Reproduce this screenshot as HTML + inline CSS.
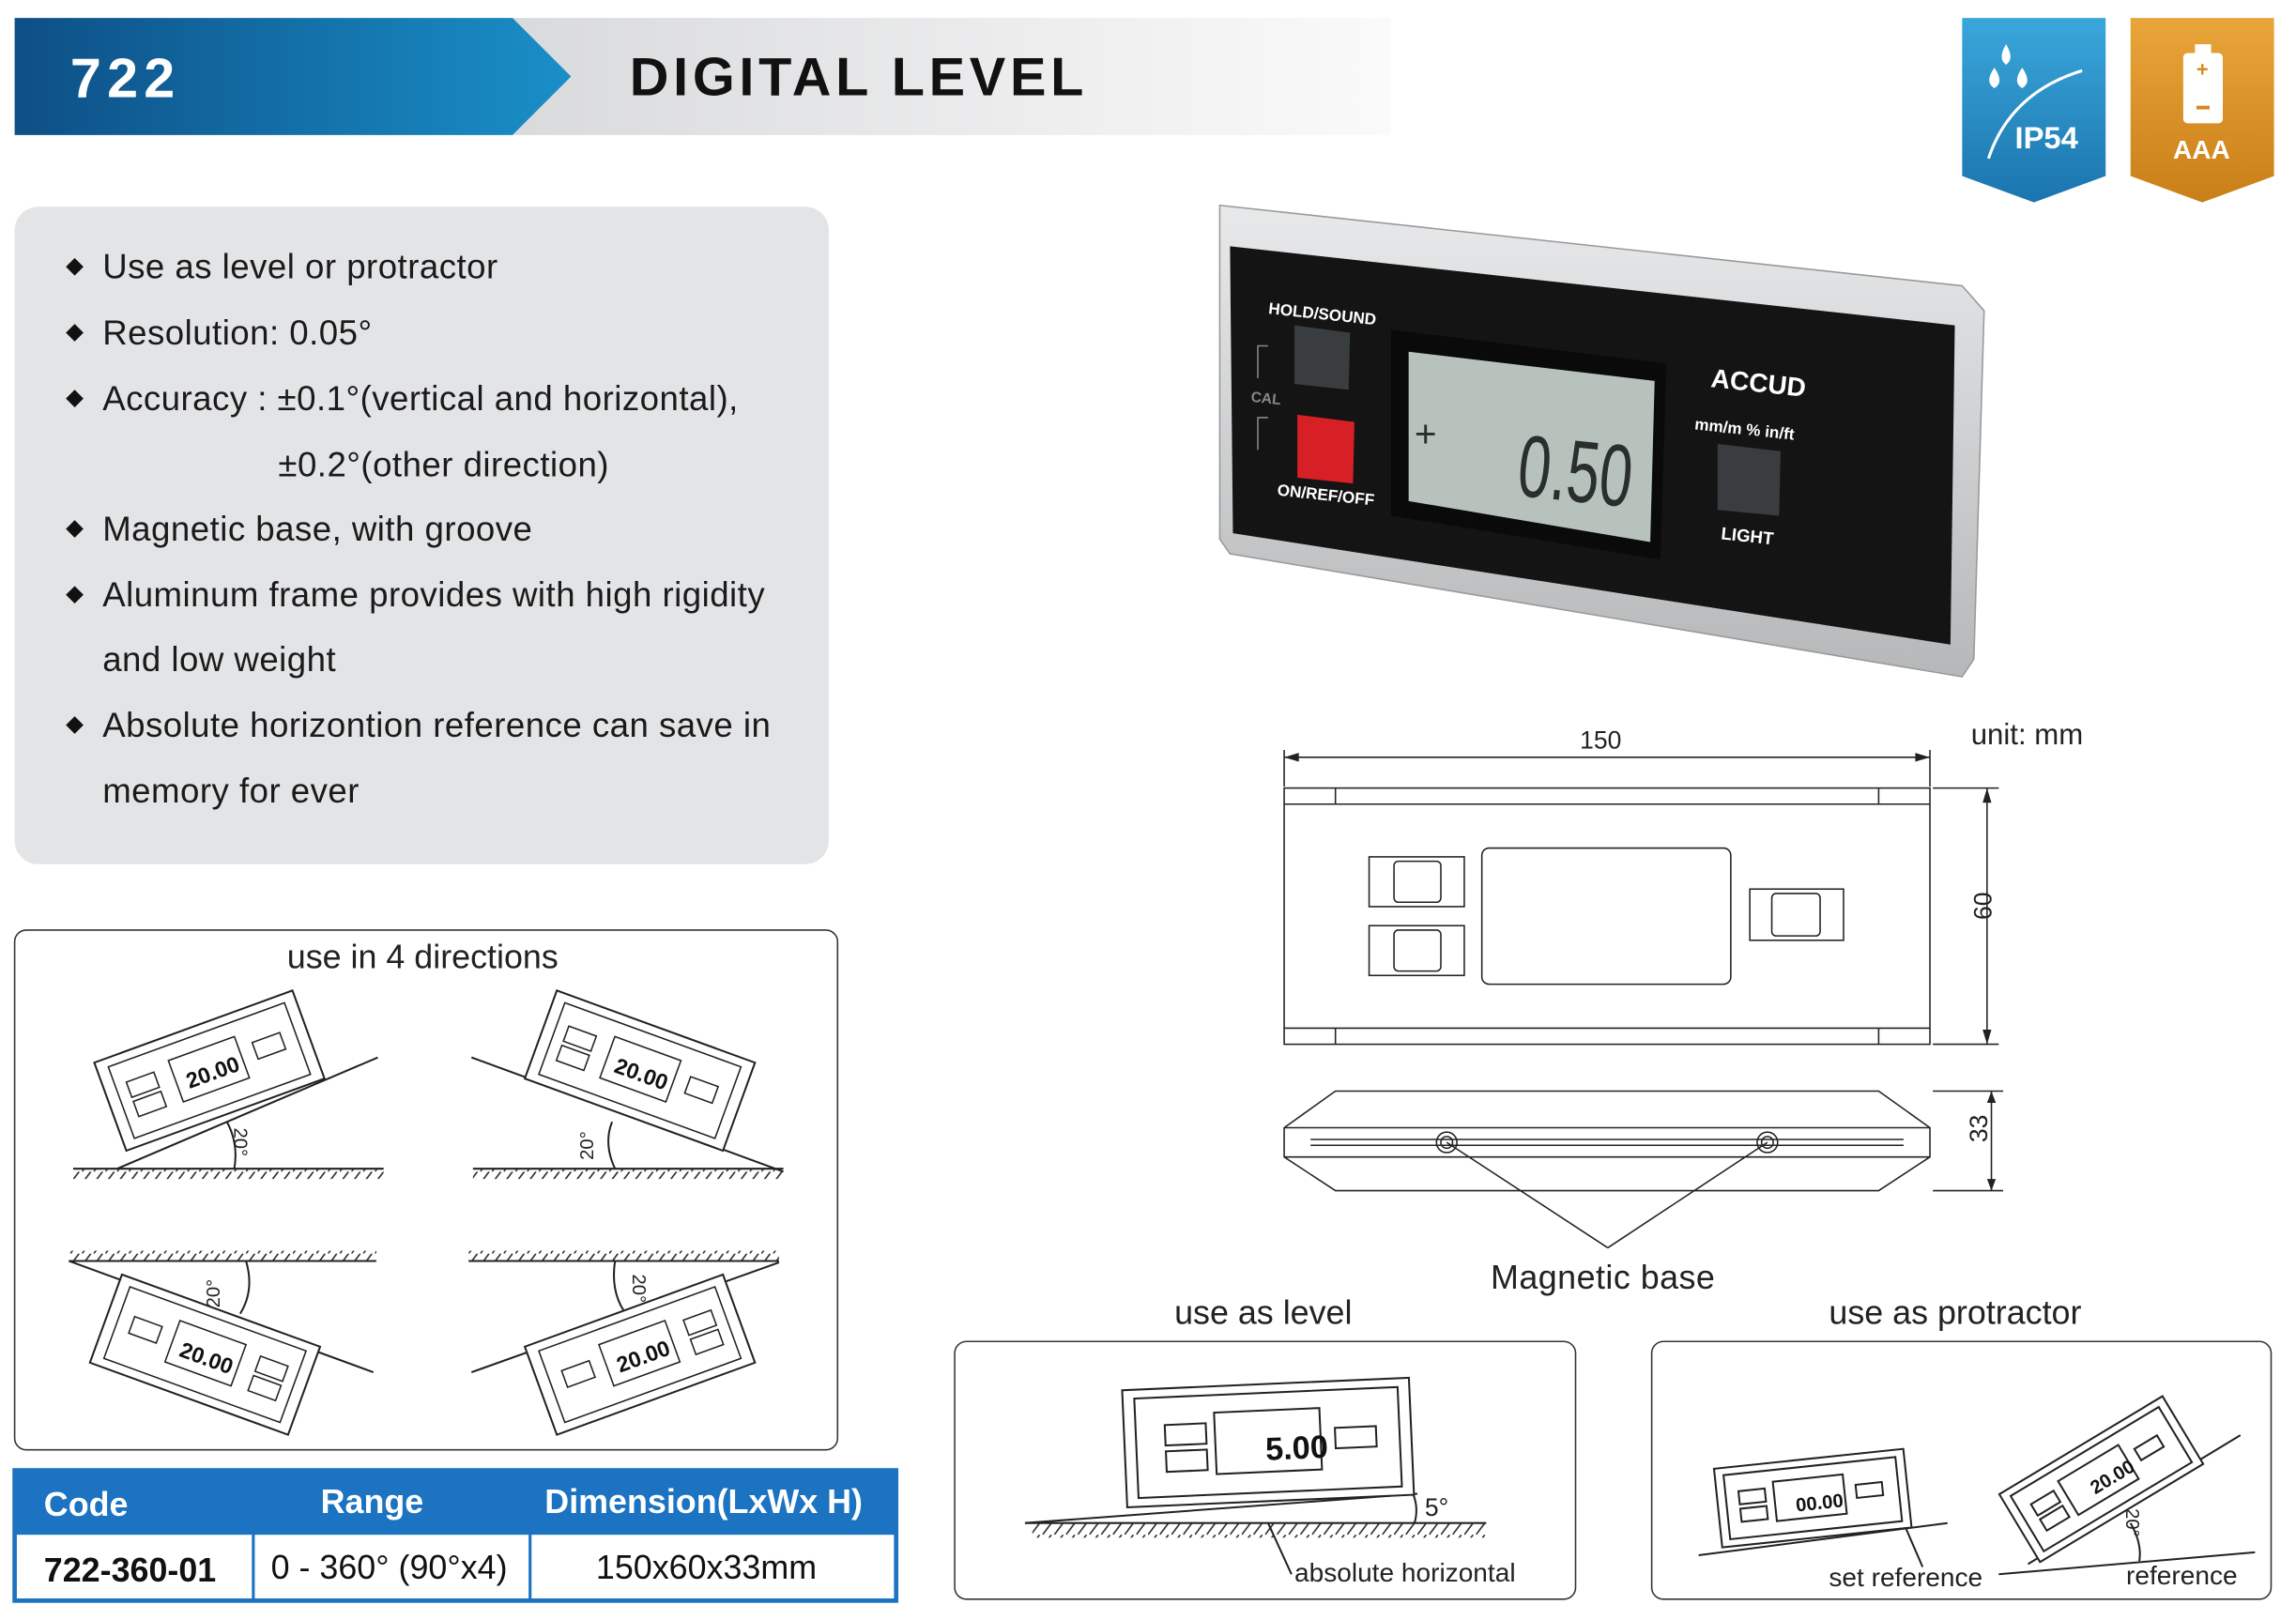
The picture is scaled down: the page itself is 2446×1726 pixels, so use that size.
<!DOCTYPE html>
<html><head><meta charset="utf-8"><style>
html,body{margin:0;padding:0;background:#fff;}
svg{display:block;}
text{font-family:"Liberation Sans",sans-serif;}
</style></head><body>
<svg width="2446" height="1726" viewBox="0 0 1568 1106" xmlns="http://www.w3.org/2000/svg">
<defs>
<linearGradient id="hb" x1="0" x2="1"><stop offset="0" stop-color="#0d4f86"/><stop offset="1" stop-color="#1a8fc8"/></linearGradient>
<linearGradient id="hg" x1="0" x2="1"><stop offset="0" stop-color="#d9dadc"/><stop offset="1" stop-color="#fafafa"/></linearGradient>
<linearGradient id="bl" x1="0" y1="0" x2="0" y2="1"><stop offset="0" stop-color="#3aa7db"/><stop offset="1" stop-color="#1b74ae"/></linearGradient>
<linearGradient id="or" x1="0" y1="0" x2="0" y2="1"><stop offset="0" stop-color="#e9a53a"/><stop offset="1" stop-color="#c97f17"/></linearGradient>
<linearGradient id="sv" x1="0" y1="0" x2="0" y2="1"><stop offset="0" stop-color="#e8e9ea"/><stop offset="1" stop-color="#b5b7b9"/></linearGradient>
<pattern id="hatch" width="8" height="8" patternUnits="userSpaceOnUse"><line x1="0" y1="8" x2="6" y2="0" stroke="#222" stroke-width="1"/></pattern>
</defs>

<!-- header -->
<rect x="350" y="12" width="600" height="80" fill="url(#hg)"/>
<polygon points="10,12 350,12 390,52 350,92 10,92" fill="url(#hb)"/>
<text x="48" y="66" font-size="38" font-weight="bold" fill="#fff" letter-spacing="4">722</text>
<text x="430" y="65" font-size="37" font-weight="bold" fill="#111" letter-spacing="3">DIGITAL LEVEL</text>

<!-- icons -->
<polygon points="1340,12 1438,12 1438,120 1389,138 1340,120" fill="url(#bl)"/>
<path d="M1370,30 q-6,10 0,14 q6,-4 0,-14z M1362,46 q-7,10 0,14 q7,-4 0,-14z M1381,46 q-7,10 0,14 q7,-4 0,-14z" fill="#fff"/>
<path d="M1358,108 q15,-45 64,-60" stroke="#fff" stroke-width="2" fill="none"/>
<text x="1376" y="101" font-size="21" font-weight="bold" fill="#fff">IP54</text>
<polygon points="1455,12 1553,12 1553,120 1504,138 1455,120" fill="url(#or)"/>
<rect x="1491" y="36" width="27" height="48" rx="3" fill="#fff"/>
<rect x="1499" y="30" width="11" height="7" fill="#fff"/>
<text x="1500" y="52" font-size="14" fill="#d48a1c" font-weight="bold">+</text>
<rect x="1500" y="72" width="9" height="2.5" fill="#d48a1c"/>
<text x="1484" y="108" font-size="18" font-weight="bold" fill="#fff">AAA</text>

<!-- features box -->
<rect x="10" y="141" width="556" height="449" rx="16" fill="#e3e4e6"/>
<g font-size="23.5" fill="#1a1a1a" letter-spacing="0.3">
<g fill="#111"><path d="M51,176 l6,6 -6,6 -6,-6z"/><path d="M51,221 l6,6 -6,6 -6,-6z"/><path d="M51,266 l6,6 -6,6 -6,-6z"/><path d="M51,355 l6,6 -6,6 -6,-6z"/><path d="M51,400 l6,6 -6,6 -6,-6z"/><path d="M51,489 l6,6 -6,6 -6,-6z"/></g>
<text x="70" y="190">Use as level or protractor</text>
<text x="70" y="235">Resolution: 0.05°</text>
<text x="70" y="280">Accuracy : ±0.1°(vertical and horizontal),</text>
<text x="190" y="325">±0.2°(other direction)</text>
<text x="70" y="369">Magnetic base, with groove</text>
<text x="70" y="414">Aluminum frame provides with high rigidity</text>
<text x="70" y="458">and low weight</text>
<text x="70" y="503">Absolute horizontion reference can save in</text>
<text x="70" y="548">memory for ever</text>
</g>

<!-- product photo -->
<polygon points="833,140 1340,195 1355,212 1348,450 1340,462 840,378 833,368" fill="url(#sv)" stroke="#999"/>
<polygon points="840,168 1335,222 1332,440 842,364" fill="#141414"/>
<polygon points="950,225 1138,248 1134,382 950,352" fill="#0a0a0a"/>
<polygon points="962,240 1130,260 1127,370 962,342" fill="#b8c2bd"/>
<text x="1035" y="338" font-size="60" fill="#2a2f2d" transform="rotate(6 1035 338)" textLength="78" lengthAdjust="spacingAndGlyphs">0.50</text>
<text x="966" y="305" font-size="26" fill="#2a2f2d">+</text>
<polygon points="884,222 922,227 921,266 884,262" fill="#3a3d3f"/>
<polygon points="886,283 925,288 924,330 886,326" fill="#d71f26"/>
<polygon points="1173,303 1216,308 1215,352 1173,348" fill="#3a3d3f"/>
<g fill="#fff" font-weight="bold">
<text x="866" y="214" font-size="11" transform="rotate(6 866 214)">HOLD/SOUND</text>
<text x="854" y="274" font-size="10" fill="#888" transform="rotate(6 854 274)">CAL</text>
<text x="872" y="338" font-size="11" transform="rotate(6 872 338)">ON/REF/OFF</text>
<text x="1168" y="264" font-size="18" transform="rotate(6 1168 264)">ACCUD</text>
<text x="1157" y="293" font-size="11" transform="rotate(6 1157 293)">mm/m % in/ft</text>
<text x="1175" y="368" font-size="12" transform="rotate(6 1175 368)">LIGHT</text>
</g>
<path d="M866,236 l-7,0 0,22 M866,285 l-7,0 0,22" stroke="#888" fill="none"/>

<!-- dimension drawing -->
<g stroke="#222" fill="none" stroke-width="1">
<rect x="877" y="538" width="441" height="175"/>
<line x1="877" y1="549" x2="1318" y2="549"/>
<line x1="877" y1="702" x2="1318" y2="702"/>
<line x1="912" y1="538" x2="912" y2="549"/><line x1="1283" y1="538" x2="1283" y2="549"/>
<line x1="912" y1="702" x2="912" y2="713"/><line x1="1283" y1="702" x2="1283" y2="713"/>
<rect x="1012" y="579" width="170" height="93" rx="5"/>
<rect x="935" y="585" width="65" height="34"/><rect x="952" y="588" width="32" height="28" rx="3"/>
<rect x="935" y="632" width="65" height="34"/><rect x="952" y="635" width="32" height="28" rx="3"/>
<rect x="1195" y="607" width="64" height="35"/><rect x="1210" y="610" width="33" height="29" rx="3"/>
<line x1="877" y1="512" x2="877" y2="537"/><line x1="1318" y1="512" x2="1318" y2="537"/>
<line x1="877" y1="517" x2="1318" y2="517"/>
<line x1="1320" y1="538" x2="1365" y2="538"/><line x1="1320" y1="713" x2="1365" y2="713"/>
<line x1="1357" y1="538" x2="1357" y2="713"/>
<path d="M912,745 L1283,745 L1318,770 L1318,790 L1283,813 L912,813 L877,790 L877,770 Z"/>
<line x1="877" y1="770" x2="1318" y2="770"/><line x1="877" y1="790" x2="1318" y2="790"/>
<line x1="895" y1="778" x2="1300" y2="778"/><line x1="895" y1="782" x2="1300" y2="782"/>
<circle cx="988" cy="780" r="7"/><circle cx="988" cy="780" r="4"/>
<circle cx="1207" cy="780" r="7"/><circle cx="1207" cy="780" r="4"/>
<line x1="1320" y1="745" x2="1368" y2="745"/><line x1="1320" y1="813" x2="1368" y2="813"/>
<line x1="1360" y1="745" x2="1360" y2="813"/>
<line x1="988" y1="780" x2="1098" y2="852"/><line x1="1207" y1="780" x2="1098" y2="852"/>
</g>
<g fill="#222"><polygon points="877,517 887,514 887,520"/><polygon points="1318,517 1308,514 1308,520"/>
<polygon points="1357,538 1354,548 1360,548"/><polygon points="1357,713 1354,703 1360,703"/>
<polygon points="1360,745 1357,753 1363,753"/><polygon points="1360,813 1357,805 1363,805"/></g>
<text x="1079" y="511" font-size="17" fill="#222">150</text>
<text x="1346" y="508" font-size="20" fill="#222">unit: mm</text>
<text x="1350" y="638" font-size="17" fill="#222" transform="rotate(-90 1350 628)">60</text>
<text x="1349" y="788" font-size="17" fill="#222" transform="rotate(-90 1349 780)">33</text>
<text x="1018" y="880" font-size="23" fill="#222" letter-spacing="0.3">Magnetic base</text>

<!-- directions box -->
<rect x="10" y="635" width="562" height="355" rx="8" fill="#fff" stroke="#333"/>
<text x="196" y="661" font-size="23" fill="#222">use in 4 directions</text>
<g stroke="#222" fill="none" stroke-width="1.3">
<line x1="50" y1="798" x2="262" y2="798"/><rect x="50" y="798" width="212" height="7" fill="url(#hatch)" stroke="none"/>
<line x1="80" y1="798" x2="258" y2="722"/>
<path d="M155,766 q8,15 5,32"/>
<line x1="323" y1="798" x2="535" y2="798"/><rect x="323" y="798" width="212" height="7" fill="url(#hatch)" stroke="none"/>
<line x1="322" y1="722" x2="535" y2="800"/>
<path d="M418,766 q-6,15 2,32"/>
<line x1="47" y1="861" x2="257" y2="861"/><rect x="47" y="854" width="210" height="7" fill="url(#hatch)" stroke="none"/>
<line x1="47" y1="861" x2="255" y2="937"/>
<path d="M168,861 q6,20 -4,36"/>
<line x1="320" y1="861" x2="532" y2="861"/><rect x="320" y="854" width="212" height="7" fill="url(#hatch)" stroke="none"/>
<line x1="322" y1="937" x2="532" y2="862"/>
<path d="M420,861 q-3,20 6,34"/>
</g>
<g font-size="13" fill="#222">
<text x="160" y="770" transform="rotate(90 160 770)">20°</text>
<text x="405" y="792" transform="rotate(-90 405 792)">20°</text>
<text x="150" y="893" transform="rotate(-90 150 893)">20°</text>
<text x="432" y="870" transform="rotate(90 432 870)">20°</text>
</g>
<!-- small devices -->
<g transform="translate(143,731) rotate(-20)">
<rect x="-72" y="-32" width="144" height="64" fill="#fff" stroke="#222" stroke-width="1.3"/><rect x="-64" y="-26" width="128" height="52" fill="none" stroke="#222"/>
<rect x="-24" y="-16" width="48" height="30" fill="none" stroke="#222"/><text x="-17" y="7" font-size="15" font-weight="bold" fill="#111">20.00</text>
<rect x="-56" y="-12" width="20" height="11" fill="none" stroke="#222"/><rect x="-56" y="2" width="20" height="11" fill="none" stroke="#222"/><rect x="34" y="-8" width="20" height="12" fill="none" stroke="#222"/></g>
<g transform="translate(437,731) rotate(20)">
<rect x="-72" y="-32" width="144" height="64" fill="#fff" stroke="#222" stroke-width="1.3"/><rect x="-64" y="-26" width="128" height="52" fill="none" stroke="#222"/>
<rect x="-24" y="-16" width="48" height="30" fill="none" stroke="#222"/><text x="-17" y="7" font-size="15" font-weight="bold" fill="#111">20.00</text>
<rect x="-56" y="-12" width="20" height="11" fill="none" stroke="#222"/><rect x="-56" y="2" width="20" height="11" fill="none" stroke="#222"/><rect x="34" y="-8" width="20" height="12" fill="none" stroke="#222"/></g>
<g transform="translate(140,925) rotate(20)">
<rect x="-72" y="-32" width="144" height="64" fill="#fff" stroke="#222" stroke-width="1.3"/><rect x="-64" y="-26" width="128" height="52" fill="none" stroke="#222"/>
<rect x="-24" y="-16" width="48" height="30" fill="none" stroke="#222"/><text x="-17" y="7" font-size="15" font-weight="bold" fill="#111">20.00</text>
<rect x="36" y="-12" width="20" height="11" fill="none" stroke="#222"/><rect x="36" y="2" width="20" height="11" fill="none" stroke="#222"/><rect x="-54" y="-8" width="20" height="12" fill="none" stroke="#222"/></g>
<g transform="translate(437,925) rotate(-20)">
<rect x="-72" y="-32" width="144" height="64" fill="#fff" stroke="#222" stroke-width="1.3"/><rect x="-64" y="-26" width="128" height="52" fill="none" stroke="#222"/>
<rect x="-24" y="-16" width="48" height="30" fill="none" stroke="#222"/><text x="-17" y="7" font-size="15" font-weight="bold" fill="#111">20.00</text>
<rect x="36" y="-12" width="20" height="11" fill="none" stroke="#222"/><rect x="36" y="2" width="20" height="11" fill="none" stroke="#222"/><rect x="-54" y="-8" width="20" height="12" fill="none" stroke="#222"/></g>

<!-- table -->
<rect x="10" y="1004" width="602" height="44" fill="#1c73c1"/>
<rect x="10" y="1004" width="602" height="89" fill="none" stroke="#1c73c1" stroke-width="3"/>
<line x1="173" y1="1004" x2="173" y2="1093" stroke="#1c73c1" stroke-width="2"/>
<line x1="362" y1="1004" x2="362" y2="1093" stroke="#1c73c1" stroke-width="2"/>
<g font-size="23" font-weight="bold" fill="#fff"><text x="30" y="1035">Code</text><text x="219" y="1033">Range</text><text x="372" y="1033">Dimension(LxWx H)</text></g>
<text x="30" y="1080" font-size="23" font-weight="bold" fill="#111">722-360-01</text>
<text x="185" y="1078" font-size="23" fill="#111">0 - 360° (90°x4)</text>
<text x="407" y="1078" font-size="23" fill="#111">150x60x33mm</text>

<!-- use as level -->
<text x="802" y="904" font-size="23" fill="#222">use as level</text>
<rect x="652" y="916" width="424" height="176" rx="8" fill="#fff" stroke="#333"/>
<g stroke="#222" fill="none" stroke-width="1.3">
<line x1="700" y1="1040" x2="1015" y2="1040"/>
<rect x="705" y="1040" width="310" height="10" fill="url(#hatch)" stroke="none"/>
<line x1="700" y1="1040" x2="968" y2="1020"/>
<path d="M965,1020 q4,10 1,20"/>
<line x1="866" y1="1040" x2="882" y2="1075"/>
<g transform="translate(866,985) rotate(-2.5)">
<rect x="-98" y="-40" width="196" height="80" fill="#fff"/><rect x="-90" y="-34" width="180" height="68"/>
<rect x="-36" y="-22" width="72" height="42"/><rect x="-70" y="-15" width="28" height="14"/><rect x="-70" y="3" width="28" height="14"/><rect x="46" y="-8" width="28" height="14"/>
</g></g>
<text x="864" y="997" font-size="22" font-weight="bold" fill="#111" transform="rotate(-2.5 866 985)">5.00</text>
<text x="973" y="1035" font-size="17" fill="#222">5°</text>
<text x="884" y="1080" font-size="18" fill="#222">absolute horizontal</text>

<!-- use as protractor -->
<text x="1249" y="904" font-size="23" fill="#222">use as protractor</text>
<rect x="1128" y="916" width="423" height="176" rx="8" fill="#fff" stroke="#333"/>
<g stroke="#222" fill="none" stroke-width="1.3">
<line x1="1160" y1="1062" x2="1330" y2="1040"/>
<line x1="1365" y1="1075" x2="1540" y2="1060"/>
<line x1="1385" y1="1068" x2="1530" y2="980"/>
<line x1="1300" y1="1040" x2="1313" y2="1070"/>
<path d="M1455,1040 q8,14 6,26"/>
<g transform="translate(1238,1023) rotate(-6)">
<rect x="-65" y="-27" width="130" height="54" fill="#fff"/><rect x="-59" y="-22" width="118" height="44"/>
<rect x="-26" y="-14" width="48" height="27"/><rect x="-50" y="-10" width="18" height="9"/><rect x="-50" y="2" width="18" height="9"/><rect x="30" y="-6" width="18" height="9"/>
</g>
<g transform="translate(1435,1010) rotate(-31)">
<rect x="-65" y="-27" width="130" height="54" fill="#fff"/><rect x="-59" y="-22" width="118" height="44"/>
<rect x="-26" y="-14" width="48" height="27"/><rect x="-50" y="-10" width="18" height="9"/><rect x="-50" y="2" width="18" height="9"/><rect x="30" y="-6" width="18" height="9"/>
</g></g>
<text x="1226" y="1031" font-size="13" font-weight="bold" fill="#111" transform="rotate(-6 1238 1023)">00.00</text>
<text x="1426" y="1017" font-size="13" font-weight="bold" fill="#111" transform="rotate(-31 1435 1010)">20.00</text>
<text x="1452" y="1030" font-size="13" fill="#222" transform="rotate(90 1452 1030)">20°</text>
<text x="1249" y="1083" font-size="18" fill="#222">set reference</text>
<text x="1452" y="1082" font-size="18" fill="#222">reference</text>
</svg>
</body></html>
